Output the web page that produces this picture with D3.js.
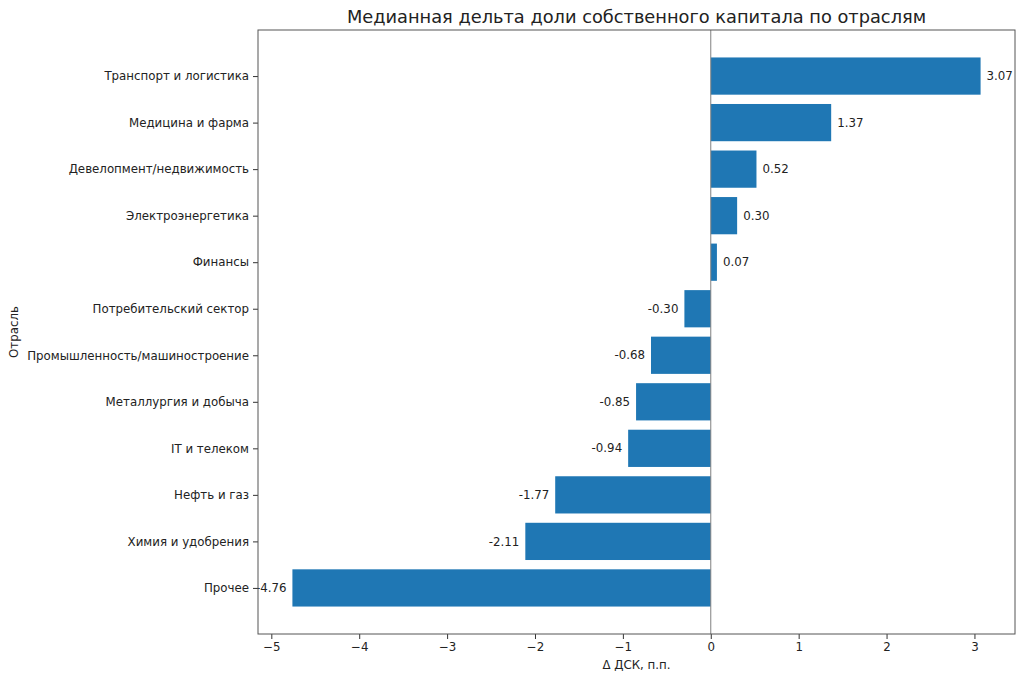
<!DOCTYPE html>
<html>
<head>
<meta charset="utf-8">
<script src="https://cdn.jsdelivr.net/npm/d3@7"></script>
<style>
  body { margin: 0; background: #fff; }
  text { font-family: "DejaVu Sans", sans-serif; fill: #222; }
</style>
</head>
<body>
<div id="chart"></div>
<script>
const width = 1024;
const height = 680;
const marginLeft = 258;
const marginRight = 9;
const marginTop = 30;
const marginBottom = 46;

const sectors = [
    "Транспорт и логистика",
    "Медицина и фарма",
    "Девелопмент/недвижимость",
    "Электроэнергетика",
    "Финансы",
    "Потребительский сектор",
    "Промышленность/машиностроение",
    "Металлургия и добыча",
    "IT и телеком",
    "Нефть и газ",
    "Химия и удобрения",
    "Прочее"
];
const deltas = [3.07, 1.37, 0.52, 0.30, 0.07, -0.30, -0.68, -0.85, -0.94, -1.77, -2.11, -4.76];
const xTicks = [-5, -4, -3, -2, -1, 0, 1, 2, 3];

const svg = d3.select("#chart").append("svg")
    .attr("width", width)
    .attr("height", height);

// matplotlib-style 5% margins around the data
const xMin = d3.min(deltas), xMax = d3.max(deltas);
const xPad = (xMax - xMin) * 0.05;
const x = d3.scaleLinear()
    .domain([xMin - xPad, xMax + xPad])
    .range([marginLeft, width - marginRight]);

const barH = 0.8;
const yLo = -barH / 2, yHi = sectors.length - 1 + barH / 2;
const yPad = (yHi - yLo) * 0.05;
const y = d3.scaleLinear()
    .domain([yLo - yPad, yHi + yPad])
    .range([marginTop, height - marginBottom]);

const fmt = d => d.toFixed(2);
const minusFmt = d => d3.format("d")(d).replace("-", "\u2212");

// bars
svg.append("g")
    .selectAll("rect")
    .data(deltas)
    .join("rect")
    .attr("x", d => x(Math.min(0, d)))
    .attr("y", (d, i) => y(i - barH / 2))
    .attr("width", d => Math.abs(x(d) - x(0)))
    .attr("height", y(barH) - y(0))
    .attr("fill", "#1f77b4");

// zero line
svg.append("line")
    .attr("x1", x(0)).attr("x2", x(0))
    .attr("y1", marginTop).attr("y2", height - marginBottom)
    .attr("stroke", "#808080")
    .attr("stroke-width", 1);

// value labels
svg.append("g")
    .selectAll("text")
    .data(deltas)
    .join("text")
    .attr("x", d => d >= 0 ? x(d) + 6 : x(d) - 6)
    .attr("y", (d, i) => y(i))
    .attr("dy", "0.35em")
    .attr("text-anchor", d => d >= 0 ? "start" : "end")
    .style("font-size", "11.8px")
    .text(d => fmt(d));

// axes
const xAxis = svg.append("g")
    .attr("transform", `translate(0,${height - marginBottom})`)
    .call(d3.axisBottom(x).tickValues(xTicks).tickFormat(minusFmt).tickSize(5).tickPadding(4));

const yAxis = svg.append("g")
    .attr("transform", `translate(${marginLeft},0)`)
    .call(d3.axisLeft(y).tickValues(d3.range(sectors.length)).tickFormat(i => sectors[i]).tickSize(5).tickPadding(4));

[xAxis, yAxis].forEach(g => {
    g.select(".domain").remove();
    g.selectAll("line").attr("stroke", "#333");
    g.selectAll("text").style("font-size", "11.8px").style("font-family", "DejaVu Sans").attr("fill", "#222");
});

// frame
svg.append("rect")
    .attr("x", marginLeft)
    .attr("y", marginTop)
    .attr("width", width - marginRight - marginLeft)
    .attr("height", height - marginBottom - marginTop)
    .attr("fill", "none")
    .attr("stroke", "#555")
    .attr("stroke-width", 1);

// labels
svg.append("text")
    .attr("x", (marginLeft + width - marginRight) / 2)
    .attr("y", 23)
    .attr("text-anchor", "middle")
    .style("font-size", "17.8px")
    .text("Медианная дельта доли собственного капитала по отраслям");

svg.append("text")
    .attr("x", (marginLeft + width - marginRight) / 2)
    .attr("y", 669)
    .attr("text-anchor", "middle")
    .style("font-size", "11.8px")
    .text("Δ ДСК, п.п.");

svg.append("text")
    .attr("transform", `translate(18,${(marginTop + height - marginBottom) / 2}) rotate(-90)`)
    .attr("text-anchor", "middle")
    .style("font-size", "11.8px")
    .text("Отрасль");
</script>
</body>
</html>
